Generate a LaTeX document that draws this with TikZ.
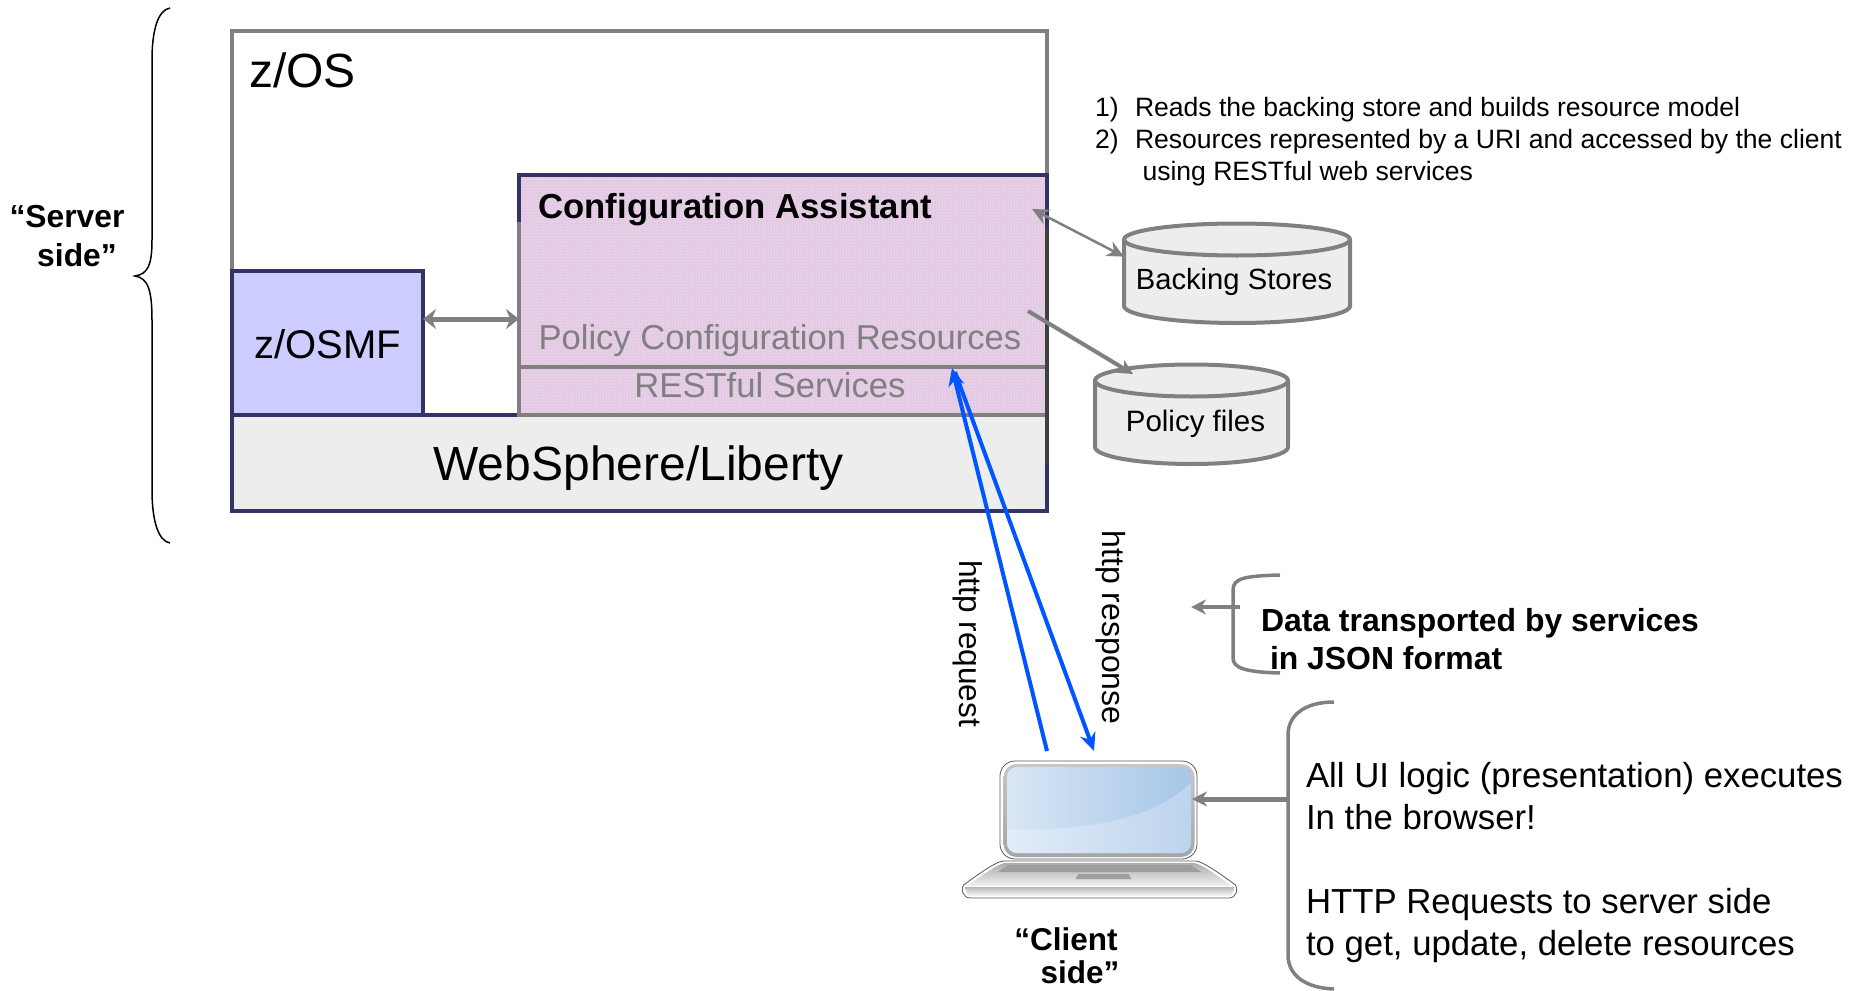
\documentclass[tikz,border=0pt]{standalone}
\usepackage{fontspec}
\setmainfont{Liberation Sans}
\usetikzlibrary{arrows.meta,patterns}
\newcommand{\fsz}[1]{\fontsize{#1}{#1}\selectfont}
\definecolor{navyline}{HTML}{333366}
\definecolor{greyline}{HTML}{808080}
\definecolor{darkline}{HTML}{404040}
\definecolor{pinkfill}{HTML}{E3C9E3}
\definecolor{lilacfill}{HTML}{CCCCFF}
\definecolor{softfill}{HTML}{EDEDED}
\definecolor{httpblue}{HTML}{0055FF}
\definecolor{screenA}{HTML}{D9E6F5}
\definecolor{screenB}{HTML}{A6C7E7}
\definecolor{screenC}{HTML}{E2ECF8}
\definecolor{screenD}{HTML}{BDD4EE}
\tikzset{
    box/.style={anchor=north west,inner sep=0,outer sep=0,minimum width=#1},
    lbl/.style={inner sep=0,outer sep=0},
    greyarrow/.style={draw=greyline,line width=#1,-{Stealth[length=15,width=15]}},
    bluearrow/.style={draw=httpblue,line width=4,-{Stealth[length=18,width=16]}}
}
\begin{document}
\begin{tikzpicture}[
    x=1pt,y=-1pt,
    drum/.pic={
        \path[fill=softfill,draw=greyline,line width=4] (-#1,-33) -- (-#1,33.5)
            arc[start angle=180,end angle=360,x radius=#1pt,y radius=17pt] -- (#1,-33)
            arc[start angle=0,end angle=180,x radius=#1pt,y radius=16pt] -- cycle;
        \draw[greyline,line width=4] (-#1,-33) arc[start angle=180,end angle=360,x radius=#1pt,y radius=16pt];
        \node[lbl,minimum width=2*#1,minimum height=101] (-body) at (0,0) {};
    },
    laptop/.pic={
        \path[fill=white,draw=black!65,line width=.8,rounded corners=15] (-98.5,-49) rectangle (98.5,49);
        \node[lbl,minimum width=197,minimum height=98] (-frame) at (0,0) {};
        \path[top color=black!22,bottom color=black!35,rounded corners=13] (-95,-46) rectangle (96,47);
        \begin{scope}
            \path[clip,rounded corners=10] (-91.5,-43) rectangle (92.5,43);
            \path[left color=screenA,right color=screenB] (-92,-43) rectangle (93,43);
            \path[left color=screenC,right color=screenD]
                (-92,19) .. controls (0,22) and (60,5) .. (93,-28) -- (93,43) -- (-92,43) -- cycle;
        \end{scope}
        \path[fill=white,draw=black!65,line width=.8] (-95,51) -- (97,51)
            .. controls (105,51) and (130,70) .. (137,75) .. controls (140,79) and (138,88) .. (130,88)
            -- (-128,88) .. controls (-136,88) and (-138,79) .. (-135,75) .. controls (-128,70) and (-103,51) .. (-95,51) -- cycle;
        \path[top color=black!32,bottom color=black!6] (-94,53) -- (96,53)
            .. controls (105,55) and (125,70) .. (133,76) -- (-131,76) .. controls (-123,70) and (-103,55) .. (-94,53) -- cycle;
        \path[fill=black!38] (-90,55) -- (92,55) -- (103,62) -- (-101,62) -- cycle;
        \path[fill=black!38] (-20,64) -- (30,64) -- (33,69) -- (-23,69) -- cycle;
        \path[top color=black!28,bottom color=black!2] (-134,77) -- (136,77) -- (133,86) -- (-130,86) -- cycle;
    }
]
\useasboundingbox (0,0) rectangle (1862,990);

% boxes
\node[box=815.5,minimum height=480,draw=greyline,line width=4] (zos) at (231.5,31) {};
\node[box=815.5,minimum height=96,fill=softfill] (liberty) at (231.5,415) {};
\node[box=191.5,minimum height=144,fill=lilacfill,draw=navyline,line width=4] (zosmf) at (231.5,271) {};
\node[lbl,font=\fsz{40}] (zosmflabel) at (327.5,344) {z/OSMF};
\node[box=528,minimum height=240,fill=pinkfill,postaction={pattern=dots,pattern color=white}] (assistant) at (519,175) {};
\coordinate (divleft) at (519,367);
\coordinate (divright) at (1047,367);

% borders
\draw[navyline,line width=4] (liberty.north west) -- (liberty.south west) -- (liberty.south east) -- (1047,463);
\draw[navyline,line width=4] (zosmf.south east) -- (assistant.south west);
\draw[greyline,line width=4] (519,222) -- (assistant.south west) -- (assistant.south east);
\draw[greyline,line width=4] (divleft) -- (divright);
\draw[navyline,line width=4] (519,222) -- (assistant.north west) -- (assistant.north east) -- (1047,227);
\draw[darkline,line width=4] (1047,227) -- (1047,463);

% box texts
\node[lbl,anchor=west,font=\fsz{48}] (zoslabel) at (249,70.5) {z/OS};
\node[lbl,font=\fsz{48}] (libertylabel) at (638.5,468) {WebSphere/Liberty};
\node[lbl,anchor=west,font=\bfseries\fsz{34.7}] (assistantlabel) at (538.5,210) {Configuration Assistant};
\node[lbl,anchor=west,font=\fsz{34.6}] (policylabel) at (538.5,340.5) {\textcolor{greyline}{Policy Configuration Resources}};
\node[lbl,font=\fsz{34.6}] (restlabel) at (770,385) {\textcolor{greyline}{RESTful Services}};
\draw[draw=greyline,line width=5,{Stealth[length=13,width=20]}-{Stealth[length=13,width=20]}]
    (zosmf.east |- 0,319) -- (assistant.west |- 0,319);

% server side
\draw[black,line width=1.5] (170,8) .. controls (158,10) and (152,30) .. (152,60) -- (152,240)
    .. controls (152,265) and (148,274) .. (135,276) .. controls (148,278) and (152,290) .. (152,320)
    -- (152,490) .. controls (152,520) and (158,541) .. (170,543);
\node[lbl,font=\bfseries\fsz{31.8}] (serverA) at (67,217) {“Server};
\node[lbl,font=\bfseries\fsz{31.8}] (serverB) at (77,255) {side”};

% notes
\foreach \i/\y/\n/\x/\t in {1/109.5/1)/1135/{Reads the backing store and builds resource model},
    2/141.5/2)/1135/{Resources represented by a URI and accessed by the client},
    3/173.5//1142.5/{using RESTful web services}}{
    \node[lbl,anchor=west,font=\fsz{26.55}] (note\i) at (\x,\y) {\t};
    \node[lbl,anchor=west,font=\fsz{26.55}] (num\i) at (1095,\y) {\n};
}

% stores
\pic (backing) at (1237,272.5) {drum=113};
\node[lbl,font=\fsz{29.2}] (backinglabel) at (1234,281.5) {Backing Stores};
\pic (policy) at (1191.5,413.5) {drum=96.5};
\node[lbl,font=\fsz{29.5}] (policyfiles) at (1195.5,424) {Policy files};
\coordinate (readfrom) at (1032,209);
\coordinate (writefrom) at (1028,311);
\coordinate (writeto) at (1133,374);
\draw[draw=greyline,line width=2.5,{Stealth[length=17,width=16]}-{Stealth[length=17,width=16]}] (readfrom) -- (backing-body.172);
\draw[greyarrow=4] (writefrom) -- (writeto);

% client
\pic (lap) at (1098.5,810) {laptop};
\node[lbl,font=\bfseries\fsz{31.5}] (clientA) at (1066,939) {“Client};
\node[lbl,font=\bfseries\fsz{31.5}] (clientB) at (1080,972) {side”};
\coordinate (reqfrom) at (1047,751);
\coordinate (reqto) at (952,368);
\coordinate (respfrom) at (955,372);
\coordinate (respto) at (1094,751);
\draw[bluearrow] (reqfrom) -- (reqto);
\draw[bluearrow] (respfrom) -- (respto);
\node[lbl,rotate=-90,font=\fsz{31.6}] (reqlabel) at (968,643.5) {http request};
\node[lbl,rotate=-90,font=\fsz{32}] (resplabel) at (1111,627.5) {http response};

% brackets
\coordinate (dataout) at (1191,607);
\coordinate (dataroot) at (1240,607);
\draw[greyline,line width=3.5] (1280,575) .. controls (1245,576) and (1233,578) .. (1233,590) -- (1233,658)
    .. controls (1233,668) and (1245,672) .. (1280,673);
\draw[greyarrow=4] (dataroot) -- (dataout);
\node[lbl,anchor=west,font=\bfseries\fsz{31.9}] (dataA) at (1261,623) {Data transported by services};
\node[lbl,anchor=west,font=\bfseries\fsz{31.9}] (dataB) at (1270,658.5) {in JSON format};

\coordinate (uiroot) at (1288,799);
\draw[greyline,line width=3.5] (1334,702) .. controls (1305,702) and (1288,715) .. (1288,735) -- (1288,955)
    .. controls (1288,975) and (1305,988) .. (1334,989);
\draw[greyarrow=5,shorten >=-5pt] (uiroot) -- (lap-frame.east |- uiroot);
\foreach \i/\y/\t in {1/779/{All UI logic (presentation) executes},2/817/{In the browser!},
    3/905/{HTTP Requests to server side},4/947/{to get, update, delete resources}}{
    \node[lbl,anchor=west,font=\fsz{34.75}] (ui\i) at (1306,\y) {\t};
}
\end{tikzpicture}
\end{document}
